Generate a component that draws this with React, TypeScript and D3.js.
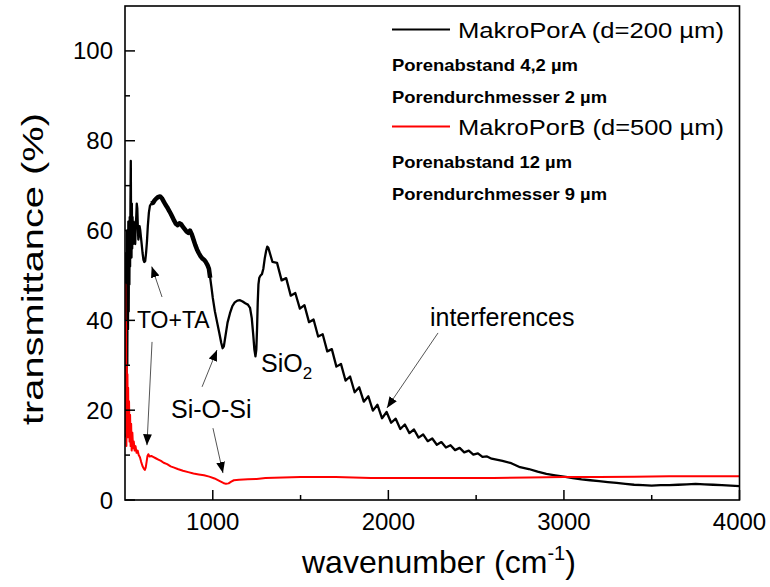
import React from "react";
import * as d3 from "d3";

// IR transmittance spectra of two macroporous silicon samples
const wnTicks = [1000, 2000, 3000, 4000];
const wnMinorTicks = [1500, 2500, 3500];
const tTicks = [0, 20, 40, 60, 80, 100];
const tMinorTicks = [10, 30, 50, 70, 90];

// MakroPorA (d = 200 µm): [wavenumber cm^-1, transmittance %]
const makroPorA: [number, number][] = [
  [500, 14], [503, 42], [505, 18], [507, 55], [509, 24], [511, 60], [513, 30], [515, 58],
  [517, 38], [519, 62], [521, 42], [523, 60], [525, 48], [527, 63], [529, 52], [531, 66],
  [533, 75.5], [535, 58], [537, 54], [539, 66], [541, 56], [543, 63], [546, 57], [549, 62],
  [552, 58], [555, 60], [558, 57], [561, 61], [564, 63], [567, 66], [570, 65], [573, 61],
  [576, 58], [579, 59], [583, 61], [587, 60], [591, 58.5], [595, 57], [600, 55], [605, 53.5],
  [610, 53], [615, 53.2], [620, 55], [625, 57.5], [630, 61], [636, 64], [642, 65.5],
  [650, 66], [660, 66.2], [670, 66.8], [680, 67.2], [690, 67.5], [700, 67.6], [710, 67.2],
  [720, 66.5], [730, 65.8], [740, 65.2], [750, 64.5], [760, 63.8], [770, 63], [780, 62.2],
  [790, 61.5], [800, 61.2], [810, 61.6], [820, 61.4], [830, 60.8], [840, 60.3], [850, 59.8],
  [860, 59.5], [870, 60], [880, 59.2], [890, 58], [900, 56.8], [910, 55.8], [920, 55],
  [930, 54.3], [940, 53.8], [950, 53.5], [960, 53], [970, 52.3], [978, 51.5], [985, 49.5],
  [992, 47.5], [1000, 45], [1012, 42], [1025, 39.5], [1038, 37], [1048, 35], [1056, 33.8],
  [1063, 34.2], [1072, 36.5], [1084, 39.5], [1098, 41.6], [1112, 43.2], [1125, 44],
  [1140, 44.4], [1155, 44.5], [1170, 44.2], [1185, 43.8], [1200, 43.5], [1212, 42.8],
  [1222, 40.5], [1230, 37], [1237, 33.5], [1243, 32], [1248, 33.5], [1252, 38], [1256, 44],
  [1260, 48], [1265, 49.5], [1272, 50], [1280, 50.3], [1288, 51.5], [1296, 53.8],
  [1304, 55.5], [1310, 56.4], [1316, 56.2],
  [1340, 53.0], [1366, 52.8], [1392, 48.9], [1418, 49.4], [1444, 45.5], [1470, 46.1],
  [1496, 42.6], [1522, 43.4], [1548, 39.6], [1574, 40.2], [1600, 36.4], [1626, 36.9],
  [1652, 33.1], [1678, 33.6], [1704, 29.7], [1730, 30.3], [1756, 26.6], [1782, 27.5],
  [1808, 24.0], [1834, 25.1], [1860, 21.9], [1886, 23.1], [1912, 19.9], [1938, 21.2],
  [1964, 18.2], [1990, 19.6], [2016, 17.2], [2042, 18.1], [2068, 15.8], [2094, 16.8],
  [2120, 14.9], [2146, 15.7], [2172, 13.9], [2198, 14.6], [2224, 13.1], [2250, 13.7],
  [2276, 12.3], [2302, 12.9], [2328, 11.7], [2354, 12.2], [2380, 11.1], [2406, 11.6],
  [2432, 10.6], [2458, 11.0], [2484, 10.1], [2510, 10.4], [2536, 9.6], [2562, 9.7],
  [2588, 9.2], [2650, 8.7], [2700, 8.2], [2750, 7.3], [2800, 6.9], [2850, 6.3], [2900, 5.8],
  [2950, 5.5], [3000, 5.2], [3050, 4.9], [3100, 4.6], [3150, 4.4], [3200, 4.2], [3250, 4.0],
  [3300, 3.8], [3350, 3.6], [3400, 3.4], [3450, 3.3], [3500, 3.2], [3550, 3.3], [3600, 3.3],
  [3650, 3.4], [3700, 3.5], [3750, 3.6], [3800, 3.5], [3850, 3.4], [3900, 3.3], [3950, 3.2],
  [4000, 3.1],
];

// MakroPorB (d = 500 µm)
const makroPorB: [number, number][] = [
  [500, 20], [502, 48], [504, 15], [506, 40], [508, 12], [510, 30], [512, 18], [514, 28],
  [516, 14], [518, 25], [520, 15], [523, 22], [526, 13], [529, 19], [532, 12], [535, 17],
  [538, 11], [542, 15], [546, 11.5], [550, 13], [555, 11], [560, 12], [566, 10.5],
  [572, 11], [578, 10], [585, 9.5], [592, 8.5], [600, 7.5], [607, 7], [613, 6.7],
  [618, 7.2], [623, 8.5], [628, 9.8], [633, 10.2], [640, 9.7], [650, 9.8], [660, 9.6],
  [675, 9.3], [690, 9.0], [705, 8.7], [720, 8.3], [740, 8.0], [760, 7.5], [780, 7.2],
  [800, 6.9], [830, 6.5], [860, 6.2], [890, 5.9], [920, 5.7], [950, 5.5], [980, 5.2],
  [1010, 4.8], [1040, 4.2], [1060, 3.8], [1075, 3.6], [1090, 3.7], [1105, 4.1],
  [1120, 4.4], [1150, 4.5], [1200, 4.6], [1250, 4.7], [1300, 4.9], [1400, 5.0],
  [1500, 5.1], [1600, 5.1], [1700, 5.1], [1800, 5.0], [1900, 4.9], [2000, 4.9],
  [2200, 4.9], [2400, 4.9], [2600, 4.9], [2800, 5.0], [3000, 5.1], [3200, 5.1],
  [3400, 5.2], [3600, 5.3], [3800, 5.3], [4000, 5.3],
];

const seriesNames = ["MakroPorA (d=200 µm)", "MakroPorB (d=500 µm)"];
const seriesNotes = [
  ["Porenabstand 4,2 µm", "Porendurchmesser 2 µm"],
  ["Porenabstand 12 µm", "Porendurchmesser 9 µm"],
];
const noteWidths = [
  [186, 215],
  [180, 215],
];
const seriesColors = ["#000000", "#ff0000"];

const W = 770;
const H = 587;
const M = { left: 125, right: 739.5, top: 6, bottom: 500 };
const FONT = "'Liberation Sans', Arial, Helvetica, sans-serif";

export default function App() {
  const x = d3.scaleLinear().domain([500, 4000]).range([M.left, M.right]);
  const y = d3.scaleLinear().domain([0, 110]).range([M.bottom, M.top]);
  const line = d3
    .line<[number, number]>()
    .x((d) => x(d[0]))
    .y((d) => y(d[1]));

  // noisy stretch of the thin sample is drawn heavier
  const noisyA = makroPorA.filter((d) => d[0] >= 645 && d[0] <= 985);

  const arrow = (x1: number, y1: number, x2: number, y2: number, key: string) => (
    <line
      key={key}
      x1={x(x1)}
      y1={y(y1)}
      x2={x(x2)}
      y2={y(y2)}
      stroke="#555"
      strokeWidth={1}
      markerEnd="url(#head)"
    />
  );

  return (
    <svg
      width={W}
      height={H}
      style={{ position: "absolute", left: 0, top: 0, background: "#fff" }}
      fontFamily={FONT}
    >
      <defs>
        <clipPath id="plot">
          <rect x={M.left} y={M.top} width={M.right - M.left} height={M.bottom - M.top} />
        </clipPath>
        <marker
          id="head"
          viewBox="0 0 10 10"
          refX={10}
          refY={5}
          markerWidth={11}
          markerHeight={11}
          markerUnits="userSpaceOnUse"
          orient="auto"
        >
          <path d="M0,1 L10,5 L0,9 Z" fill="#000" />
        </marker>
      </defs>

      <g clipPath="url(#plot)">
        <path d={line(makroPorA) || ""} fill="none" stroke={seriesColors[0]} strokeWidth={2.3} strokeLinejoin="round" />
        <path d={line(noisyA) || ""} fill="none" stroke={seriesColors[0]} strokeWidth={4.5} strokeLinejoin="round" />
        <path d={line(makroPorB) || ""} fill="none" stroke={seriesColors[1]} strokeWidth={2} strokeLinejoin="round" />
      </g>

      {/* frame */}
      <rect
        x={M.left}
        y={M.top}
        width={M.right - M.left}
        height={M.bottom - M.top}
        fill="none"
        stroke="#000"
        strokeWidth={1.6}
      />

      {/* x ticks */}
      {wnTicks.map((t) => (
        <g key={"xt" + t}>
          <line x1={x(t)} x2={x(t)} y1={M.bottom} y2={M.bottom - 10} stroke="#000" strokeWidth={1.5} />
          <text x={x(t)} y={530} fontSize={24} textAnchor="middle">
            {t}
          </text>
        </g>
      ))}
      {wnMinorTicks.map((t) => (
        <line key={"xm" + t} x1={x(t)} x2={x(t)} y1={M.bottom} y2={M.bottom - 5} stroke="#000" strokeWidth={1.5} />
      ))}

      {/* y ticks */}
      {tTicks.map((t) => (
        <g key={"yt" + t}>
          <line x1={M.left} x2={M.left + 10} y1={y(t)} y2={y(t)} stroke="#000" strokeWidth={1.5} />
          <text x={113} y={y(t) + 8.5} fontSize={24} textAnchor="end">
            {t}
          </text>
        </g>
      ))}
      {tMinorTicks.map((t) => (
        <line key={"ym" + t} x1={M.left} x2={M.left + 5} y1={y(t)} y2={y(t)} stroke="#000" strokeWidth={1.5} />
      ))}

      {/* axis titles */}
      <text x={302} y={573} fontSize={32}>
        wavenumber (cm
        <tspan dy={-13} fontSize={20}>-1</tspan>
        <tspan dy={13}>)</tspan>
      </text>
      <text
        transform="translate(43,425) rotate(-90)"
        fontSize={29}
        textLength={312}
        lengthAdjust="spacingAndGlyphs"
      >
        transmittance (%)
      </text>

      {/* legend */}
      {seriesNames.map((name, i) => {
        const base = i * 97;
        return (
          <g key={name}>
            <line x1={392} x2={450} y1={29.5 + base} y2={29.5 + base} stroke={seriesColors[i]} strokeWidth={2} />
            <text x={458} y={37.5 + base} fontSize={22} textLength={266} lengthAdjust="spacingAndGlyphs">
              {name}
            </text>
            {seriesNotes[i].map((note, j) => (
              <text
                key={note}
                x={392}
                y={71 + base + j * 32}
                fontSize={16.5}
                fontWeight="bold"
                textLength={noteWidths[i][j]}
                lengthAdjust="spacingAndGlyphs"
              >
                {note}
              </text>
            ))}
          </g>
        );
      })}

      {/* band annotations */}
      <g fontSize={24}>
        <text x={x(568)} y={y(38.3)} fontSize={23}>TO+TA</text>
        <text x={x(762)} y={y(18.3)} fontSize={25}>Si-O-Si</text>
        <text x={x(1275)} y={y(28.5)} fontSize={25}>
          SiO<tspan dy={7} fontSize={17}>2</tspan>
        </text>
        <text x={x(2237)} y={y(38.7)} fontSize={25}>interferences</text>
      </g>
      {arrow(711, 45.2, 652, 52, "a1")}
      {arrow(654, 35.2, 625, 12.2, "a2")}
      {arrow(939, 25.2, 1024, 33.4, "a3")}
      {arrow(1001, 16, 1058, 6, "a4")}
      {arrow(2283, 37.2, 1992, 20.5, "a5")}
    </svg>
  );
}
